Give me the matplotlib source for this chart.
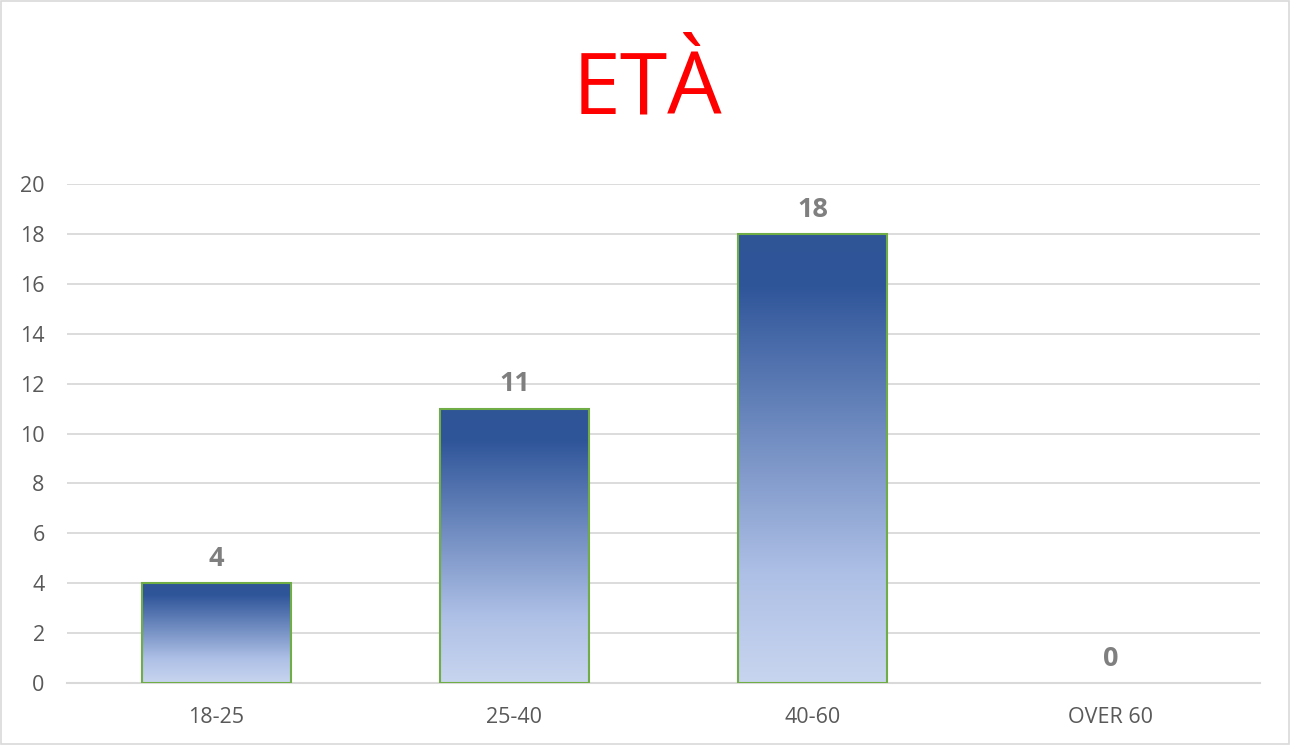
import numpy as np
import matplotlib
matplotlib.use("Agg")
import matplotlib.pyplot as plt
from matplotlib.colors import LinearSegmentedColormap
from matplotlib.patches import Rectangle

categories = ["18-25", "25-40", "40-60", "OVER 60"]
values = [4, 11, 18, 0]
y_ticks = [0, 2, 4, 6, 8, 10, 12, 14, 16, 18, 20]
title = "ETÀ"

plt.rcParams["font.family"] = ["Open Sans", "DejaVu Sans"]

fig = plt.figure(figsize=(12.9, 7.45), dpi=100)
fig.patches.append(Rectangle((0.001, 0.001), 0.998, 0.997, transform=fig.transFigure,
                             fill=False, edgecolor="#D9D9D9", linewidth=1.2))
ax = fig.add_axes([0.0519, 0.0832, 0.9248, 0.6698])

grad = LinearSegmentedColormap.from_list(
    "bar", [(0.0, "#2F5597"), (0.12, "#30569A"), (0.76, "#AEC0E6"), (1.0, "#C8D5EF")])
fill = np.linspace(0, 1, 256).reshape(-1, 1)

x = np.arange(len(categories))
edges = ["#70AD47" if v > 0 else "none" for v in values]
bars = ax.bar(x, values, width=0.5, color="none", edgecolor=edges, linewidth=1.5, zorder=3)
for bar, v in zip(bars, values):
    if v > 0:
        x0, w = bar.get_x(), bar.get_width()
        im = ax.imshow(fill, cmap=grad, aspect="auto", extent=(x0, x0 + w, 0, v),
                       origin="upper", zorder=2)
        im.set_clip_path(bar)
    ax.annotate(str(v), (bar.get_x() + bar.get_width() / 2, v), xytext=(0, 8),
                textcoords="offset points", ha="center", va="bottom",
                fontsize=19.5, fontweight="bold", color="#7F7F7F")

ax.set_xlim(-0.5, len(categories) - 0.5)
ax.set_ylim(0, 20)
ax.set_yticks(y_ticks)
ax.set_xticks(x)
ax.set_xticklabels(categories)
ax.tick_params(axis="both", length=0, labelsize=15.5, labelcolor="#595959")
ax.tick_params(axis="y", pad=16)
ax.tick_params(axis="x", pad=17)
ax.grid(axis="y", color="#D9D9D9", linewidth=1.3, zorder=0)
ax.set_axisbelow(True)
for side in ["top", "right", "left"]:
    ax.spines[side].set_visible(False)
ax.spines["bottom"].set_color("#D9D9D9")
ax.spines["bottom"].set_linewidth(1.5)

fig.text(0.502, 0.877, title, ha="center", va="center", fontsize=62, color="#FF0000")

fig.savefig("out.png", dpi=100)
